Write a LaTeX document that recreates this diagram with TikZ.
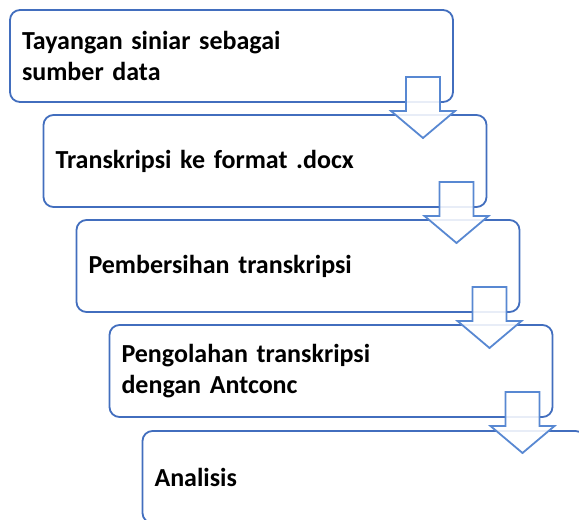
\documentclass[tikz,border=0pt]{standalone}
\usepackage{fontspec}
\setmainfont{Carlito}
\usetikzlibrary{positioning,calc}
\definecolor{boxblue}{RGB}{66,110,190}
\definecolor{arrowblue}{RGB}{88,136,210}
\tikzset{
  stepbox/.style={draw=boxblue, line width=1.8pt, rounded corners=10pt,
    text width=419pt, inner xsep=12pt, inner ysep=0pt, minimum height=92pt,
    align=left, outer sep=0pt, font=\fontsize{26}{31}\selectfont\bfseries},
  downarrow/.style={draw=arrowblue, line width=1.8pt, fill=white,
    fill opacity=0.88, line join=miter}
}
\begin{document}
\begin{tikzpicture}[x=1pt,y=1pt]
\def\blockarrow#1{(#1) ++(-17,0) -- ++(34,0) -- ++(0,-34) -- ++(15,0) -- ++(-32,-27) -- ++(-32,27) -- ++(15,0) -- cycle}

\useasboundingbox (0,0) rectangle (579,-520);
\clip (0,0) rectangle (579,-520);

\node[stepbox, anchor=north west] (b1) at (10,-10) {Tayangan siniar sebagai\\sumber data};
\node[stepbox, below=13pt of b1.south west, anchor=north west, xshift=33.5pt] (b2) {Transkripsi ke format .docx};
\node[stepbox, below=13pt of b2.south west, anchor=north west, xshift=33pt] (b3) {Pembersihan transkripsi};
\node[stepbox, below=13pt of b3.south west, anchor=north west, xshift=33pt] (b4) {Pengolahan transkripsi\\dengan Antconc};
\node[stepbox, below=14pt of b4.south west, anchor=north west, xshift=33pt] (b5) {Analisis};

% block arrows on top of the boxes
\foreach \i in {1,...,4}
  \coordinate (a\i) at ($(b\i.south east)+(-30,25)$);
\foreach \i in {1,...,4}
  \draw[downarrow] \blockarrow{a\i};
\end{tikzpicture}
\end{document}
